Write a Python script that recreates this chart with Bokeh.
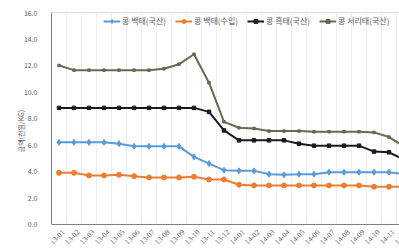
from bokeh.plotting import figure
from bokeh.models import (Range1d, FixedTicker, Legend, LegendItem, NumeralTickFormatter,
                          LabelSet, ColumnDataSource, BoxAnnotation, Span)
from bokeh.embed import file_html
from bokeh.resources import INLINE

months = ["13-01", "13-02", "13-03", "13-04", "13-05", "13-06", "13-07", "13-08",
          "13-09", "13-10", "13-11", "13-12", "14-01", "14-02", "14-03", "14-04",
          "14-05", "14-06", "14-07", "14-08", "14-09", "14-10", "14-11", "14-12"]
white_dom = [6.2, 6.2, 6.2, 6.2, 6.1, 5.9, 5.9, 5.9, 5.9, 5.1, 4.6, 4.1,
             4.05, 4.05, 3.8, 3.75, 3.8, 3.8, 3.95, 3.95, 3.95, 3.95, 3.95, 3.8]
white_imp = [3.9, 3.9, 3.7, 3.7, 3.75, 3.65, 3.55, 3.55, 3.55, 3.6, 3.4, 3.4,
             3.0, 2.95, 2.95, 2.95, 2.95, 2.95, 2.95, 2.95, 2.95, 2.85, 2.85, 2.85]
black_dom = [8.8, 8.8, 8.8, 8.8, 8.8, 8.8, 8.8, 8.8, 8.8, 8.8, 8.5, 7.1,
             6.35, 6.35, 6.35, 6.35, 6.1, 5.95, 5.95, 5.95, 5.95, 5.5, 5.45, 4.9]
seoritae = [12.0, 11.65, 11.65, 11.65, 11.65, 11.65, 11.65, 11.75, 12.1, 12.85, 10.7, 7.75,
            7.3, 7.25, 7.05, 7.05, 7.05, 7.0, 7.0, 7.0, 7.0, 6.95, 6.6, 5.9]
names = ["콩 백태(국산)", "콩 백태(수입)", "콩 흑태(국산)", "콩 서리태(국산)"]
y_ticks = [0, 2, 4, 6, 8, 10, 12, 14, 16]
y_min, y_max = 0, 16

xs = list(range(len(months)))

# frame runs to the bottom of the page so the slanted month labels can sit below y=0
p = figure(width=399, height=249, output_backend="svg", toolbar_location=None,
           x_range=Range1d(-0.5, 22.7), y_range=Range1d(-1.887, y_max))
p.min_border_left = 51
p.min_border_right = 0
p.min_border_top = 12
p.min_border_bottom = 0
p.outline_line_color = None
p.background_fill_color = "white"
p.border_fill_color = "white"

font = "Noto Sans CJK KR"

p.xaxis.visible = False

p.yaxis.ticker = FixedTicker(ticks=y_ticks)
p.yaxis.bounds = (y_min, y_max)
p.yaxis.formatter = NumeralTickFormatter(format="0.0")
p.yaxis.major_tick_line_color = None
p.yaxis.minor_tick_line_color = None
p.yaxis.axis_line_color = "#7f7f7f"
p.yaxis.major_label_text_font = font
p.yaxis.major_label_text_font_size = "7px"
p.yaxis.major_label_text_color = "#595959"
p.yaxis.major_label_standoff = 8
p.yaxis.axis_label = "금액(천원/KG)"
p.yaxis.axis_label_text_font = font
p.yaxis.axis_label_text_font_size = "7px"
p.yaxis.axis_label_text_font_style = "normal"
p.yaxis.axis_label_text_color = "#595959"
p.yaxis.axis_label_standoff = -5

p.ygrid.grid_line_color = None
p.xgrid.ticker = FixedTicker(ticks=[i + 0.5 for i in xs])
p.xgrid.grid_line_color = "#ebeef2"
p.xgrid.grid_line_width = 1

colors = ["#5b9bd5", "#ed7d31", "#1a1a1a", "#636b50"]
markers = ["diamond", "circle", "square", "square"]
msizes = [6, 5, 3.5, 2.5]
series = [white_dom, white_imp, black_dom, seoritae]

items = []
for name, ys, c, mk, ms in zip(names, series, colors, markers, msizes):
    r1 = p.line(xs, ys, line_color=c, line_width=2)
    r2 = p.scatter(xs, ys, marker=mk, size=ms, fill_color=c, line_color=c)
    items.append(LegendItem(label=name, renderers=[r1, r2]))

# white area under the x axis (hides grid lines there)
p.add_layout(BoxAnnotation(top=y_min, fill_color="white", fill_alpha=1.0, line_alpha=0))
# x axis line and top border
p.add_layout(Span(location=y_min, dimension="width", line_color="#7f7f7f", line_width=1))
p.add_layout(Span(location=y_max, dimension="width", line_color="#bfbfbf", line_width=1))

# rotated category labels
lab_src = ColumnDataSource(dict(x=xs, y=[y_min] * len(xs), t=months))
labels = LabelSet(x="x", y="y", text="t", source=lab_src, angle=0.785,
                  text_align="right", text_baseline="middle",
                  x_offset=4, y_offset=-6, text_font=font,
                  text_font_size="7.5px", text_color="#595959")
p.add_layout(labels)

legend = Legend(items=items, orientation="horizontal", location=(52, 223),
                label_text_font=font, label_text_font_size="8px",
                label_text_color="#595959", glyph_width=17, glyph_height=10,
                label_standoff=2, spacing=9, padding=2, margin=0,
                border_line_color=None, background_fill_alpha=0.0,
                label_height=10)
p.add_layout(legend, "center")

open("out.html", "w").write(file_html(p, INLINE))
